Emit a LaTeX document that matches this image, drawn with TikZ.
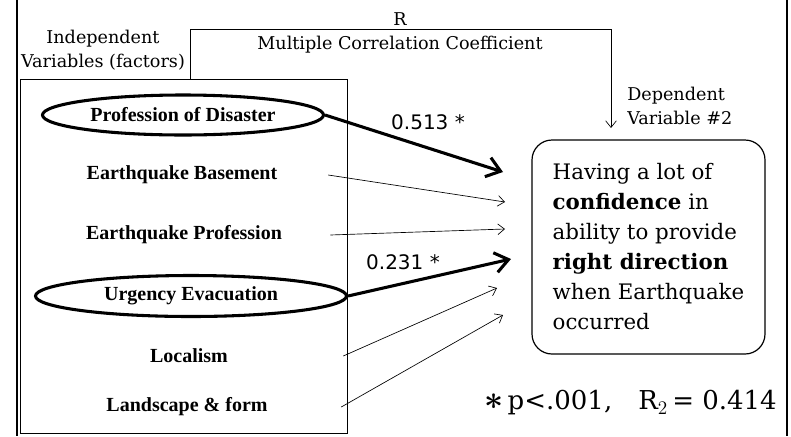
\documentclass[tikz,border=0pt]{standalone}
\usepackage{fontspec}
\setmainfont{DejaVu Serif}
\newfontfamily\facfont{Liberation Serif}
\newfontfamily\numfont{DejaVu Sans}
\usetikzlibrary{arrows.meta,shapes.geometric}

\begin{document}
\begin{tikzpicture}[
  x=0.75pt, y=-0.75pt,
  hdr/.style={align=center, inner sep=0pt, font=\fontsize{13.2}{18}\selectfont},
  fac/.style={inner sep=0pt, minimum height=30pt,
    font=\facfont\bfseries\fontsize{15}{18}\selectfont},
  hilite/.style={fac, ellipse, draw, line width=2.3pt},
  coef/.style={inner sep=0pt, font=\numfont\fontsize{15}{18}\selectfont},
  smallarr/.style={-{Straight Barb[length=5pt,width=8pt]}, line width=0.5pt},
  bigarr/.style={-{Straight Barb[length=10pt,width=15pt]}, line width=2.3pt},
  depbox/.style={
    draw,
    rounded corners=15pt,
    line width=0.9pt,
    align=left,
    inner xsep=12pt,
    minimum width=174.75pt,
    minimum height=160.5pt,
    font=\fontsize{16}{22.5}\selectfont
  }
]
\useasboundingbox (0,0) rectangle (791,436);

% -------------------------------------------------
% Frame
% -------------------------------------------------
\draw[line width=2.2pt] (17,0) -- (17,436);
\draw[line width=2.2pt] (787,0) -- (787,436);

% -------------------------------------------------
% HEADINGS
% -------------------------------------------------
\node[hdr] (indep) at (103,50) {Independent\\Variables (factors)};
\node[hdr] (rlab) at (400,19) {R};
\node[hdr] (mcc) at (400,45) {Multiple Correlation Coefficient};
\node[hdr, align=left, anchor=west] (dvlab) at (627,106) {Dependent\\Variable \#2};

% -------------------------------------------------
% FACTORS
% -------------------------------------------------
\node[draw, line width=0.6pt, minimum width=245.25pt, minimum height=265.5pt] (facbox) at (183.5,256) {};

\node[hilite, minimum width=210.75pt, minimum height=30pt] (f1) at (183,115) {Profession of Disaster};
\node[fac, minimum width=219pt] (f2) at (182,175) {Earthquake Basement};
\node[fac, minimum width=219pt] (f3) at (184,235) {Earthquake Profession};
\node[hilite, minimum width=233.25pt, minimum height=30.75pt] (f4) at (191,296) {Urgency Evacuation};
\node[fac, minimum width=231pt] (f5) at (189,356) {Localism};
\node[fac, minimum width=231pt] (f6) at (187,407) {Landscape \& form};

% -------------------------------------------------
% DEPENDENT VARIABLE
% -------------------------------------------------
\node[depbox] (dep) at (648.5,247) {Having a lot of\\\textbf{confidence} in\\ability to provide\\\textbf{right direction}\\when Earthquake\\occurred};

\node[anchor=east, inner sep=0pt, font=\fontsize{19.5}{24}\selectfont] (note) at (777,403)
  {{\fontsize{28}{28}\selectfont\boldmath$\ast$}\,p<.001,\quad R$_2$\,= 0.414};

% -------------------------------------------------
% ARROWS
% -------------------------------------------------
\coordinate (t1) at (503,172);
\coordinate (t2) at (505,202);
\coordinate (t3) at (505,229);
\coordinate (t4) at (511,259);
\coordinate (t5) at (497,288);
\coordinate (t6) at (503,315);
\coordinate (rtip) at (611,128);

\draw[bigarr] (f1.east) -- (t1);
\draw[smallarr] (f2.east) -- (t2);
\draw[smallarr] (f3.east) -- (t3);
\draw[bigarr] (f4.east) -- (t4);
\draw[smallarr] (f5.east) -- (t5);
\draw[smallarr] (f6.east) -- (t6);

% multiple correlation bracket
\draw[smallarr] (facbox.north -| 190,0) -- ++(0,-49) -| (rtip);

\node[coef] (c1) at (428,122) {0.513 *};
\node[coef] (c2) at (403,262) {0.231 *};

\end{tikzpicture}
\end{document}
